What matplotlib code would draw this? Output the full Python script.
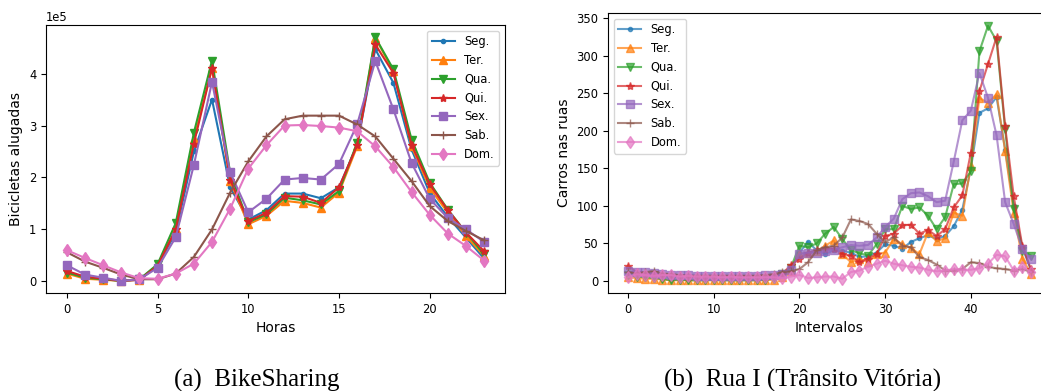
import numpy as np
import matplotlib
matplotlib.use("Agg")
import matplotlib.pyplot as plt

dias = ["Seg.", "Ter.", "Qua.", "Qui.", "Sex.", "Sab.", "Dom."]
marcadores = [".", "^", "v", "*", "s", "+", "d"]

# (a) BikeSharing - bicicletas alugadas por hora
horas = list(range(24))
bike_seg = [18000, 8000, 4000, 1000, 3000, 30000, 94000, 250000, 350000, 181000, 119000, 137000,
            169000, 169000, 160000, 181000, 263000, 447000, 382000, 254000, 170000, 124000, 84000, 44000]
bike_ter = [15000, 5000, 3000, 1000, 3000, 31000, 100000, 274000, 410000, 193000, 110000, 126000,
            155000, 151000, 142000, 171000, 260000, 469000, 404000, 260000, 180000, 132000, 87000, 49000]
bike_qua = [17000, 7000, 4000, 1000, 4000, 33000, 112000, 286000, 425000, 209000, 114000, 129000,
            161000, 156000, 148000, 174000, 267000, 470000, 408000, 273000, 190000, 138000, 94000, 52000]
bike_qui = [20000, 9000, 5000, 1000, 3000, 30000, 100000, 265000, 411000, 196000, 116000, 132000,
            164000, 163000, 151000, 181000, 262000, 456000, 401000, 263000, 187000, 137000, 94000, 58000]
bike_sex = [31000, 13000, 7000, 1000, 4000, 26000, 85000, 224000, 384000, 210000, 133000, 159000,
            196000, 199000, 196000, 226000, 302000, 424000, 331000, 228000, 159000, 122000, 100000, 76000]
bike_sab = [56000, 38000, 26000, 13000, 4000, 4000, 15000, 47000, 100000, 171000, 231000, 279000,
            312000, 319000, 319000, 319000, 302000, 279000, 236000, 193000, 145000, 116000, 97000, 79000]
bike_dom = [60000, 45000, 31000, 17000, 6000, 5000, 15000, 34000, 76000, 140000, 217000, 262000,
            300000, 301000, 299000, 296000, 289000, 260000, 220000, 172000, 128000, 92000, 68000, 40000]

# (b) Rua I - carros nas ruas por intervalo
intervalos = list(range(48))
rua_seg = [10, 9, 8, 8, 7, 6, 6, 6, 5, 5, 5, 5, 5, 5, 5, 5, 6, 7, 10, 16, 38, 52, 41, 36,
           41, 40, 38, 32, 33, 38, 49, 47, 43, 52, 57, 61, 56, 60, 73, 95, 150, 224, 230, 245, 175, 100, 45, 15]
rua_ter = [5, 4, 3, 3, 2, 1, 1, 1, 1, 1, 1, 1, 1, 1, 1, 1, 1, 2, 5, 14, 36, 38, 40, 47,
           54, 36, 25, 30, 25, 36, 38, 56, 49, 44, 36, 65, 53, 57, 91, 87, 153, 244, 237, 249, 173, 91, 30, 10]
rua_qua = [8, 6, 5, 4, 3, 1, 2, 1, 1, 1, 2, 1, 1, 1, 1, 1, 2, 3, 10, 18, 47, 45, 50, 63,
           72, 56, 41, 37, 34, 49, 69, 69, 100, 96, 98, 87, 69, 85, 129, 130, 146, 306, 340, 320, 202, 96, 40, 34]
rua_qui = [20, 12, 10, 9, 8, 7, 7, 6, 6, 6, 6, 6, 6, 6, 6, 6, 6, 7, 10, 21, 30, 38, 41, 43,
           43, 36, 34, 25, 30, 36, 60, 63, 74, 75, 63, 68, 60, 69, 98, 114, 171, 253, 289, 325, 206, 113, 47, 16]
rua_sex = [13, 12, 12, 11, 9, 8, 8, 8, 7, 7, 7, 7, 7, 7, 7, 7, 8, 8, 10, 15, 36, 38, 38, 40,
           42, 45, 48, 47, 48, 58, 72, 83, 109, 117, 118, 113, 105, 107, 159, 214, 227, 277, 244, 194, 105, 76, 43, 29]
rua_sab = [12, 10, 12, 13, 10, 9, 8, 7, 7, 7, 7, 7, 7, 7, 7, 7, 8, 9, 12, 13, 16, 25, 41, 45,
           47, 58, 82, 80, 76, 63, 52, 58, 47, 45, 32, 28, 22, 14, 14, 16, 25, 24, 19, 17, 16, 14, 16, 12]
rua_dom = [5, 9, 8, 7, 8, 8, 6, 7, 6, 6, 6, 5, 6, 5, 5, 5, 5, 5, 4, 6, 8, 4, 5, 6,
           6, 3, 12, 14, 19, 23, 27, 23, 21, 19, 18, 15, 13, 14, 16, 15, 15, 17, 23, 35, 33, 14, 19, 12]

bike = [bike_seg, bike_ter, bike_qua, bike_qui, bike_sex, bike_sab, bike_dom]
rua = [rua_seg, rua_ter, rua_qua, rua_qui, rua_sex, rua_sab, rua_dom]

fig = plt.figure(figsize=(10.41, 3.91), dpi=100)
ax1 = fig.add_axes([0.0442, 0.2506, 0.4409, 0.6854])
ax2 = fig.add_axes([0.584, 0.2506, 0.4256, 0.7161])

for serie, dia, m in zip(bike, dias, marcadores):
    ax1.plot(horas, serie, marker=m, label=dia, lw=1.5, ms=6)
for serie, dia, m in zip(rua, dias, marcadores):
    ax2.plot(intervalos, serie, marker=m, label=dia, lw=1.5, ms=6, alpha=0.7)

ax1.set_xticks([0, 5, 10, 15, 20])
ax1.ticklabel_format(axis="y", style="sci", scilimits=(0, 0))
ax1.set_xlabel("Horas", fontsize=10)
ax1.set_ylabel("Bicicletas alugadas", fontsize=10)
ax1.legend(loc="upper right", fontsize=8.3)

ax2.set_xticks([0, 10, 20, 30, 40])
ax2.set_yticks(range(0, 351, 50))
ax2.set_xlabel("Intervalos", fontsize=10)
ax2.set_ylabel("Carros nas ruas", fontsize=10)
ax2.legend(loc="upper left", fontsize=8.3)

for ax in (ax1, ax2):
    ax.tick_params(labelsize=8.3)
ax1.yaxis.get_offset_text().set_fontsize(8.3)

fig.text(0.247, 0.0102, "(a)  BikeSharing", ha="center", va="baseline",
         family="Liberation Serif", fontsize=18)
fig.text(0.771, 0.0102, "(b)  Rua I (Trânsito Vitória)", ha="center", va="baseline",
         family="Liberation Serif", fontsize=18)

fig.savefig("out.png", dpi=100)
